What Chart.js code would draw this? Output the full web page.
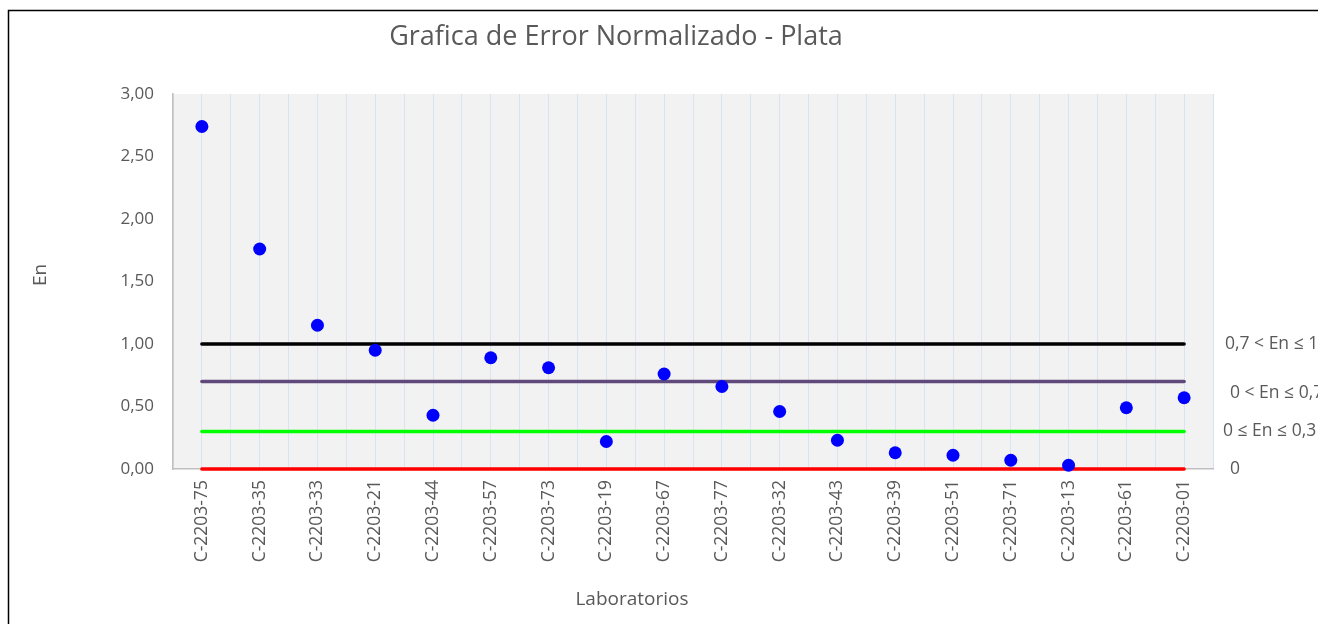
<!DOCTYPE html>
<html>
<head>
<meta charset="utf-8">
<script src="https://cdn.jsdelivr.net/npm/chart.js@4.4.1/dist/chart.umd.min.js"></script>
<style>
  html, body { margin: 0; padding: 0; background: #fff; overflow: hidden; }
  #wrap { position: relative; width: 1318px; height: 624px; }
</style>
</head>
<body>
<div id="wrap"><canvas id="enChart" width="1318" height="624"></canvas></div>
<script>
const labels = ["C-2203-75", "C-2203-35", "C-2203-33", "C-2203-21", "C-2203-44", "C-2203-57",
  "C-2203-73", "C-2203-19", "C-2203-67", "C-2203-77", "C-2203-32", "C-2203-43",
  "C-2203-39", "C-2203-51", "C-2203-71", "C-2203-13", "C-2203-61", "C-2203-01"];
const enValues = [2.74, 1.76, 1.15, 0.95, 0.43, 0.89, 0.81, 0.22, 0.76, 0.66, 0.46, 0.23,
  0.13, 0.11, 0.07, 0.03, 0.49, 0.57];
const yTicks = [0, 0.5, 1, 1.5, 2, 2.5, 3];
const limitValues = [1, 0.7, 0.3, 0];
const limitColors = ["#000000", "#604A7B", "#00FF00", "#FF0000"];
const limitTexts = ["0,7 < En ≤ 1", "0 < En ≤ 0,7", "0 ≤ En ≤ 0,3", "0"];

const FONT = "'Open Sans', sans-serif";
const GREY = "#595959";

// one scatter set for the labs, one flat line per limit
const datasets = [{
  label: "En",
  data: enValues.map((v, i) => ({ x: i, y: v })),
  showLine: false,
  pointRadius: 6.5,
  pointHoverRadius: 6.5,
  pointBackgroundColor: "#0000FF",
  pointBorderWidth: 0,
  clip: false,
  order: 0
}];
limitValues.forEach((v, k) => {
  datasets.push({
    label: limitTexts[k],
    data: labels.map((l, i) => ({ x: i, y: v })),
    borderColor: limitColors[k],
    borderWidth: 3.5,
    pointRadius: 0,
    borderCapStyle: "round",
    clip: false,
    order: 1
  });
});

const decor = {
  id: "decor",
  beforeDraw(chart) {
    const { ctx, chartArea: a } = chart;
    ctx.save();
    ctx.fillStyle = "#fff";
    ctx.fillRect(0, 0, chart.width, chart.height);
    ctx.fillStyle = "#F2F2F2";
    ctx.fillRect(a.left, a.top, a.right - a.left, a.bottom - a.top);
    ctx.strokeStyle = "#000";
    ctx.lineWidth = 1.5;
    ctx.strokeRect(8.5, 10.5, 2000, 2000);
    ctx.restore();
  },
  afterDraw(chart) {
    const { ctx } = chart;
    const y = chart.scales.y;
    ctx.save();
    ctx.fillStyle = GREY;
    ctx.textBaseline = "middle";
    ctx.textAlign = "center";
    ctx.font = "27px " + FONT;
    ctx.fillText("Grafica de Error Normalizado - Plata", 616, 37);
    ctx.font = "19px " + FONT;
    ctx.fillText("Laboratorios", 632, 600);
    ctx.save();
    ctx.translate(41, 275);
    ctx.rotate(-Math.PI / 2);
    ctx.fillText("En", 0, 0);
    ctx.restore();
    // limit labels at right side
    const dx = [1225, 1230, 1223, 1230];
    const dy = [0, 12, 0, 0];
    ctx.textAlign = "left";
    ctx.font = "17.5px " + FONT;
    limitTexts.forEach((t, k) => {
      ctx.fillText(t, dx[k], y.getPixelForValue(limitValues[k]) + dy[k]);
    });
    ctx.restore();
  }
};

new Chart(document.getElementById("enChart"), {
  type: "line",
  data: { datasets },
  options: {
    responsive: false,
    animation: false,
    events: [],
    layout: { padding: { top: 94, right: 105, left: 0, bottom: 0 } },
    plugins: { legend: { display: false }, tooltip: { enabled: false } },
    scales: {
      x: {
        type: "linear",
        min: -0.5,
        max: 17.5,
        afterFit: s => { s.height = 155; },
        afterBuildTicks: s => {
          s.ticks = [];
          for (let i = 0; i <= labels.length * 2; i++) s.ticks.push({ value: -0.5 + i / 2 });
        },
        grid: { color: "#DAE3F3", lineWidth: 1, drawTicks: false },
        border: { color: "#BFBFBF", width: 1.5 },
        ticks: {
          autoSkip: false,
          maxRotation: 90,
          minRotation: 90,
          padding: 11,
          color: GREY,
          font: { family: FONT, size: 17.5 },
          callback: v => Number.isInteger(v) ? labels[v] : ""
        }
      },
      y: {
        min: 0,
        max: 3,
        afterFit: s => { s.width = 173; },
        afterBuildTicks: s => { s.ticks = yTicks.map(v => ({ value: v })); },
        grid: { display: false, drawTicks: false },
        border: { color: "#BFBFBF", width: 1.5 },
        ticks: {
          padding: 19,
          color: GREY,
          font: { family: FONT, size: 17 },
          callback: v => v.toFixed(2).replace(".", ",")
        }
      }
    }
  },
  plugins: [decor]
});
</script>
</body>
</html>
